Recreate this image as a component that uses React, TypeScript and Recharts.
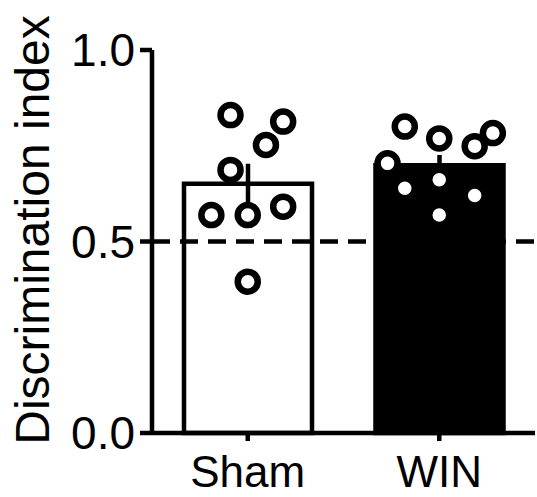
import React from 'react';
import { ComposedChart, Bar, Cell, XAxis, YAxis, Scatter, ErrorBar, ReferenceLine } from 'recharts';

const categories = ['Sham', 'WIN'];
const means = [0.651, 0.699];
const sems = [0.052, 0.027];
const yTicks = [0, 0.5, 1];
const chanceLevel = 0.5;
const shamValues = [0.83, 0.813, 0.752, 0.687, 0.569, 0.569, 0.591, 0.395];
const shamJitter = [-0.09, 0.185, 0.095, -0.09, -0.19, 0, 0.185, 0];
const winValues = [0.8, 0.769, 0.783, 0.749, 0.704, 0.639, 0.661, 0.62, 0.569];
const winJitter = [-0.18, 0, 0.28, 0.185, -0.27, -0.18, 0, 0.185, 0];
const barFills = ['#ffffff', '#000000'];

const barData = categories.map((name, i) => ({ name, mean: means[i], sem: sems[i] }));
const points = [
  ...shamValues.map((v, i) => ({ x: 0 + shamJitter[i], y: v })),
  ...winValues.map((v, i) => ({ x: 1 + winJitter[i], y: v })),
];

const FONT = '"Liberation Sans", Arial, sans-serif';
const LW = 4.5;

const Dot = (props: any) => {
  const { cx, cy } = props;
  if (cx == null || cy == null) return null;
  return <circle cx={cx} cy={cy} r={10} fill="#ffffff" stroke="#000000" strokeWidth={6.5} />;
};

const YLabel = () => (
  <text
    transform="translate(49,230) rotate(-90)"
    textAnchor="middle"
    fontSize={48}
    fontFamily={FONT}
    fill="#000"
  >
    Discrimination index
  </text>
);

export default function App() {
  return (
    <div style={{ position: 'absolute', left: 0, top: 0, background: '#fff' }}>
      <ComposedChart
        width={537}
        height={497}
        data={barData}
        margin={{ top: 50, right: 2, left: 0, bottom: 0 }}
      >
        <XAxis
          dataKey="name"
          height={64}
          tickSize={8}
          tickMargin={15}
          axisLine={{ stroke: '#000', strokeWidth: LW }}
          tickLine={{ stroke: '#000', strokeWidth: LW }}
          tick={{ fontSize: 44, fill: '#000', fontFamily: FONT }}
          interval={0}
        />
        <XAxis xAxisId="num" type="number" dataKey="x" domain={[-0.5, 1.5]} hide />
        <YAxis
          width={152}
          domain={[0, 1]}
          ticks={yTicks}
          interval={0}
          tickSize={12}
          tickMargin={5}
          tickFormatter={(v: number) => v.toFixed(1)}
          axisLine={{ stroke: '#000', strokeWidth: LW }}
          tickLine={{ stroke: '#000', strokeWidth: LW }}
          tick={{ fontSize: 46, fill: '#000', fontFamily: FONT }}
          label={<YLabel />}
        />
        <Bar dataKey="mean" barSize={128} stroke="#000" strokeWidth={LW} isAnimationActive={false}>
          {barData.map((d, i) => (
            <Cell key={d.name} fill={barFills[i]} />
          ))}
          <ErrorBar dataKey="sem" width={0} stroke="#000" strokeWidth={LW} direction="y" />
        </Bar>
        <ReferenceLine y={chanceLevel} stroke="#000" strokeWidth={LW} strokeDasharray="18 10" />
        <Scatter xAxisId="num" data={points} dataKey="y" shape={<Dot />} isAnimationActive={false} />
      </ComposedChart>
    </div>
  );
}
